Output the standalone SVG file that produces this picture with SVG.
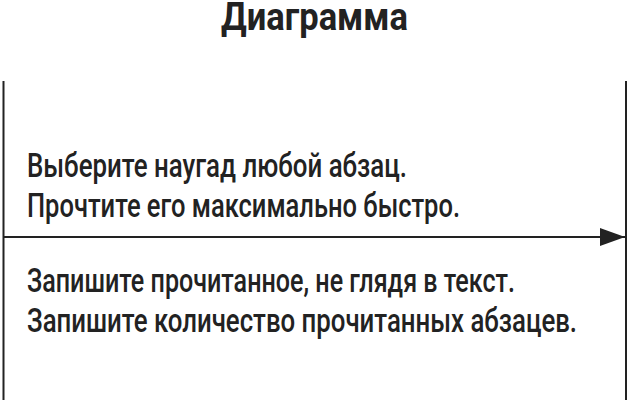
<svg xmlns="http://www.w3.org/2000/svg" width="631" height="403" viewBox="0 0 631 403">
<style>
.t{font-family:Roboto,"Liberation Sans",sans-serif;font-size:34px;font-weight:500;fill:#222}
.h{font-family:Roboto,"Liberation Sans",sans-serif;font-size:38px;font-weight:bold;fill:#222}
.ln{stroke:#222;stroke-width:2;fill:none}
</style>
<defs>
<marker id="ah" markerUnits="userSpaceOnUse" markerWidth="26" markerHeight="20" refX="25" refY="9" orient="auto">
<path d="M0,0 L25,9 L0,18 Z" fill="#222"/>
</marker>
</defs>
<rect width="631" height="403" fill="#fff"/>
<g id="title"><text class="h" x="221" y="30" textLength="187" lengthAdjust="spacingAndGlyphs">Диаграмма</text></g>
<g id="connectors">
<line class="ln" x1="3.5" y1="81" x2="3.5" y2="400"/>
<line class="ln" x1="626" y1="81" x2="626" y2="400"/>
<line class="ln" x1="3.5" y1="237" x2="625" y2="237" marker-end="url(#ah)"/>
</g>
<g id="top-text">
<text class="t" x="27" y="177" textLength="380" lengthAdjust="spacingAndGlyphs">Выберите наугад любой абзац.</text>
<text class="t" x="27" y="217" textLength="433" lengthAdjust="spacingAndGlyphs">Прочтите его максимально быстро.</text>
</g>
<g id="bottom-text">
<text class="t" x="27" y="292" textLength="488" lengthAdjust="spacingAndGlyphs">Запишите прочитанное, не глядя в текст.</text>
<text class="t" x="27" y="332" textLength="550" lengthAdjust="spacingAndGlyphs">Запишите количество прочитанных абзацев.</text>
</g>
</svg>
